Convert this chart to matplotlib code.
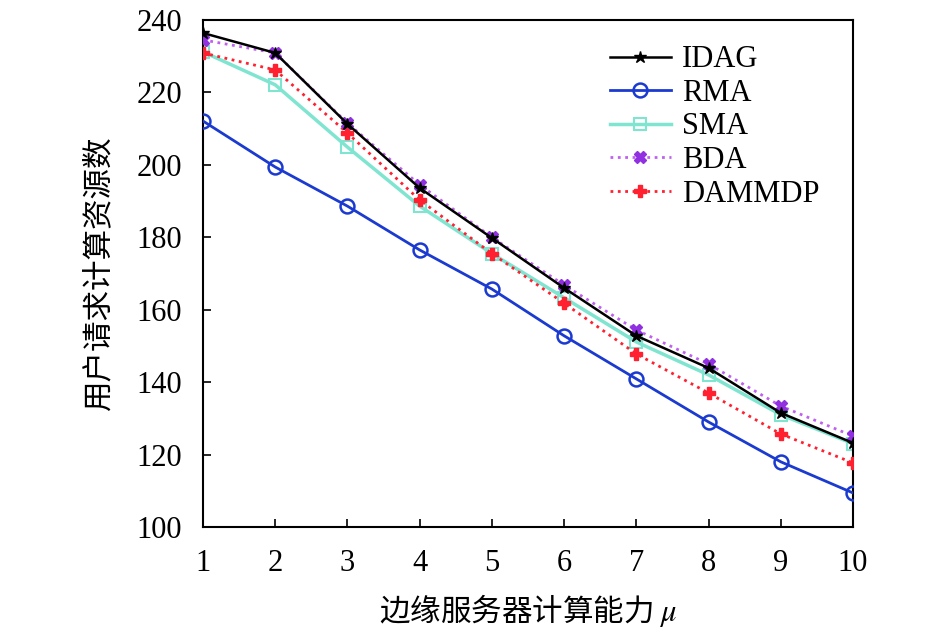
import matplotlib.pyplot as plt
import numpy as np

plt.rcParams["font.family"] = ["Liberation Serif", "Noto Sans CJK SC"]
plt.rcParams["mathtext.fontset"] = "stix"

mu = np.arange(1, 11)

idag = [236.4, 230.9, 211.3, 193.6, 179.8, 166.0, 152.8, 143.9, 131.5, 123.2]
rma = [212.1, 199.4, 188.6, 176.5, 165.7, 152.8, 140.9, 129.0, 118.0, 109.4]
sma = [231.2, 222.1, 204.9, 188.6, 175.5, 163.3, 151.1, 142.0, 131.0, 123.0]
bda = [234.5, 230.9, 211.5, 194.5, 180.0, 166.8, 154.4, 145.0, 133.4, 125.1]
dammdp = [230.9, 226.2, 208.8, 190.3, 175.5, 161.8, 147.8, 137.0, 125.7, 117.7]

fig = plt.figure(figsize=(9.45, 6.38), dpi=100)
ax = fig.add_axes([0.2148, 0.174, 0.6878, 0.7947])

ax.plot(mu, sma, color="#7fe5d0", lw=2.5, marker="s", ms=8, mfc="none",
        mec="#7fe5d0", mew=1.5, label="SMA", zorder=2)
ax.plot(mu, rma, color="#1a3ad0", lw=2, marker="o", ms=10, mfc="none",
        mec="#1a3ad0", mew=1.8, label="RMA", zorder=3)
ax.plot(mu, dammdp, color="#ff2030", lw=2, ls=":", marker="P", ms=9,
        mfc="#ff2030", mec="#ff2030", label="DAMMDP", zorder=3)
ax.plot(mu, bda, color="#c060f0", lw=2, ls=":", marker="X", ms=9,
        mfc="#9030e0", mec="#9030e0", label="BDA", zorder=3)
ax.plot(mu, idag, color="black", lw=1.8, marker="*", ms=9,
        label="IDAG", zorder=4)

ax.set_xlim(1, 10)
ax.set_ylim(100, 240)
ax.set_xticks(mu)
ax.set_yticks(np.arange(100, 241, 20))
ax.tick_params(direction="in", labelsize=22, length=6, width=1.2)
ax.tick_params(axis="x", pad=16)
ax.tick_params(axis="y", pad=15)
for s in ax.spines.values():
    s.set_linewidth(1.5)

ax.set_xlabel("边缘服务器计算能力 $\\mu$", fontsize=22, labelpad=10,
              family=["Noto Sans CJK SC", "Liberation Serif"])
ax.set_ylabel("用户请求计算资源数", fontsize=22, labelpad=16,
              family=["Noto Sans CJK SC", "Liberation Serif"])

h, l = ax.get_legend_handles_labels()
order = ["IDAG", "RMA", "SMA", "BDA", "DAMMDP"]
hh = [h[l.index(n)] for n in order]
ax.legend(hh, order, loc="upper left", bbox_to_anchor=(0.626, 0.95),
          frameon=False, fontsize=22, handlelength=2.0, labelspacing=0.15,
          borderpad=0, borderaxespad=0, handletextpad=0.36)

fig.savefig("out.png", dpi=100)
